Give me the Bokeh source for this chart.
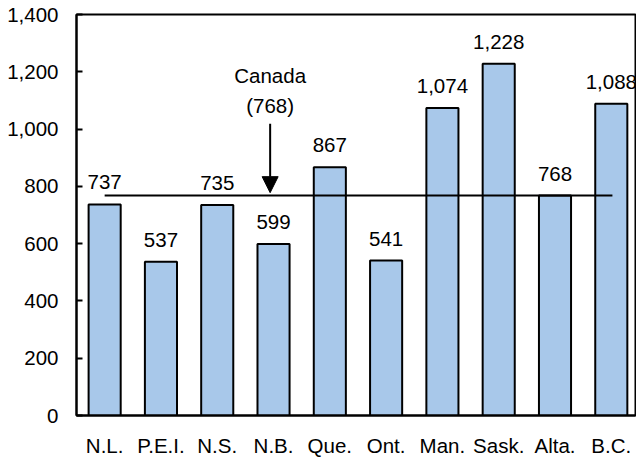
from bokeh.plotting import figure
from bokeh.models import Range1d, FixedTicker, NumeralTickFormatter, Arrow, NormalHead, ColumnDataSource
from bokeh.core.properties import value
from bokeh.embed import file_html
from bokeh.resources import INLINE

provinces = ["N.L.", "P.E.I.", "N.S.", "N.B.", "Que.", "Ont.", "Man.", "Sask.", "Alta.", "B.C."]
rates = [737, 537, 735, 599, 867, 541, 1074, 1228, 768, 1088]
canada = 768
y_ticks = [0, 200, 400, 600, 800, 1000, 1200, 1400]

FONT = value("Liberation Sans")
FS = "20.5px"

xs = [i + 0.5 for i in range(len(provinces))]
labels = [f"{v:,}" for v in rates]
src = ColumnDataSource(dict(x=xs, top=rates, label=labels))

p = figure(width=636, height=459, output_backend="svg", toolbar_location=None,
           x_range=Range1d(0, 9.93), y_range=Range1d(0, 1400),
           min_border_left=76, min_border_right=1, min_border_top=14, min_border_bottom=44)
p.xgrid.visible = False
p.ygrid.visible = False
p.background_fill_color = "white"
p.border_fill_color = "white"
p.outline_line_color = "black"
p.outline_line_width = 2

p.vbar(x="x", top="top", width=0.57, bottom=0, source=src,
       fill_color="#a8c8ea", line_color="black", line_width=2)

p.text(x="x", y="top", text="label", source=src, text_font=FONT, text_font_size=FS,
       text_align="center", text_baseline="middle", y_offset=-22, text_color="black")

# Canada average line
p.line(x=[xs[0], xs[-1] + 0.02], y=[canada, canada], line_color="black", line_width=2)

ax = 3.44
p.text(x=[ax], y=[1187], text=["Canada"], text_font=FONT, text_font_size=FS,
       text_align="center", text_baseline="middle", text_color="black")
p.text(x=[ax], y=[1082], text=[f"({canada})"], text_font=FONT, text_font_size=FS,
       text_align="center", text_baseline="middle", text_color="black")
p.add_layout(Arrow(end=NormalHead(size=16, fill_color="black", line_color="black"),
                   x_start=ax, y_start=1019, x_end=ax, y_end=778,
                   line_color="black", line_width=2))

# y axis
yax = p.yaxis[0]
yax.ticker = FixedTicker(ticks=y_ticks)
yax.formatter = NumeralTickFormatter(format="0,0")
yax.major_tick_in = 6
yax.major_tick_out = 0
yax.minor_tick_line_color = None
yax.axis_line_width = 2
yax.major_tick_line_width = 2
yax.major_label_text_font = "Liberation Sans"
yax.major_label_text_font_size = FS
yax.major_label_text_color = "black"
yax.major_label_standoff = 18

# x axis
xax = p.xaxis[0]
xax.ticker = FixedTicker(ticks=xs)
xax.major_label_overrides = {x: lab for x, lab in zip(xs, provinces)}
xax.major_tick_line_color = None
xax.minor_tick_line_color = None
xax.axis_line_width = 2
xax.major_label_text_font = "Liberation Sans"
xax.major_label_text_font_size = FS
xax.major_label_text_color = "black"
xax.major_label_standoff = 12

open("out.html", "w").write(file_html(p, INLINE))
